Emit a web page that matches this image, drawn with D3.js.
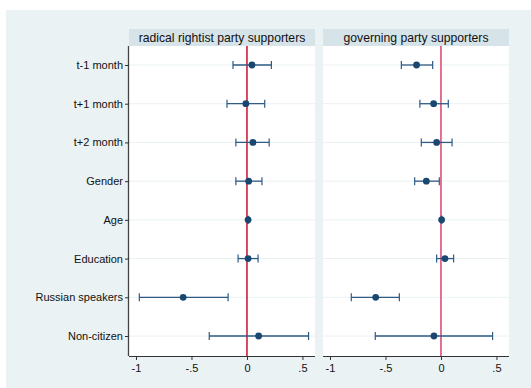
<!DOCTYPE html>
<html lang="en">
<head>
<meta charset="UTF-8">
<title>coefplot</title>
<script src="https://cdn.jsdelivr.net/npm/d3@7"></script>
<style>
  body { margin: 0; background: #fff; }
  text { font-family: "Liberation Sans", Arial, sans-serif; fill: #111; }
</style>
</head>
<body>
<svg id="chart" width="531" height="388"></svg>
<script>
// categories (top to bottom)
var categories = ["t-1 month", "t+1 month", "t+2 month", "Gender", "Age", "Education", "Russian speakers", "Non-citizen"];

// panel titles
var panelTitles = ["radical rightist party supporters", "governing party supporters"];

// radical rightist party supporters: estimate, lower, upper
var radicalEst = [0.045, -0.01, 0.054, 0.015, 0.01, 0.01, -0.575, 0.105];
var radicalLo  = [-0.126, -0.18, -0.10, -0.10, 0.005, -0.08, -0.97, -0.34];
var radicalHi  = [0.22, 0.16, 0.20, 0.135, 0.015, 0.10, -0.17, 0.555];

// governing party supporters
var govEst = [-0.22, -0.066, -0.039, -0.132, 0.006, 0.036, -0.588, -0.063];
var govLo  = [-0.357, -0.19, -0.177, -0.237, 0.002, -0.039, -0.808, -0.592];
var govHi  = [-0.075, 0.066, 0.10, -0.015, 0.010, 0.114, -0.375, 0.465];

var tickValues = [-1, -0.5, 0, 0.5];
var tickLabels = ["-1", "-.5", "0", ".5"];

var series = [
  {est: radicalEst, lo: radicalLo, hi: radicalHi},
  {est: govEst, lo: govLo, hi: govHi}
];

var svg = d3.select("#chart");

// outer background
svg.append("rect").attr("x", 6).attr("y", 10).attr("width", 525).attr("height", 378)
  .attr("fill", "#eaf2f3");

var panelW = 186, plotTop = 46, plotBottom = 356, headerTop = 29;
var panelX = [129, 323];

var y = d3.scalePoint().domain(categories).range([65, 336]);

panelX.forEach(function (px, p) {
  var g = svg.append("g");
  var x = d3.scaleLinear().domain([-1.063, 0.613]).range([px, px + panelW]);
  var s = series[p];

  // header
  g.append("rect").attr("x", px).attr("y", headerTop).attr("width", panelW)
    .attr("height", plotTop - headerTop).attr("fill", "#d6e3e9");
  g.append("text").attr("x", px + panelW / 2).attr("y", plotTop - 4.5)
    .attr("text-anchor", "middle").attr("font-size", 12.2).attr("fill", "#222")
    .text(panelTitles[p]);

  // plot area
  g.append("rect").attr("x", px).attr("y", plotTop).attr("width", panelW)
    .attr("height", plotBottom - plotTop).attr("fill", "#fff");

  // gridlines
  g.selectAll(".grid").data(categories).enter().append("line")
    .attr("x1", px).attr("x2", px + panelW)
    .attr("y1", function (d) { return y(d); }).attr("y2", function (d) { return y(d); })
    .attr("stroke", "#eaf2f3").attr("stroke-width", 1);

  // reference line at 0
  g.append("line").attr("x1", x(0)).attr("x2", x(0)).attr("y1", plotTop).attr("y2", plotBottom)
    .attr("stroke", p === 0 ? "#c8102e" : "#d9456c").attr("stroke-width", 1.5);

  // CI lines and caps
  var ci = g.selectAll(".ci").data(categories).enter().append("g");
  ci.append("line")
    .attr("x1", function (d, i) { return x(s.lo[i]); })
    .attr("x2", function (d, i) { return x(s.hi[i]); })
    .attr("y1", function (d) { return y(d); }).attr("y2", function (d) { return y(d); })
    .attr("stroke", "#2e5a85").attr("stroke-width", 1.3);
  [s.lo, s.hi].forEach(function (arr) {
    ci.append("line")
      .attr("x1", function (d, i) { return x(arr[i]); })
      .attr("x2", function (d, i) { return x(arr[i]); })
      .attr("y1", function (d) { return y(d) - 4; }).attr("y2", function (d) { return y(d) + 4; })
      .attr("stroke", "#2e5a85").attr("stroke-width", 1.2);
  });

  // points
  g.selectAll(".pt").data(categories).enter().append("circle")
    .attr("cx", function (d, i) { return x(s.est[i]); })
    .attr("cy", function (d) { return y(d); })
    .attr("r", 3.4).attr("fill", "#1a476f");

  // x axis
  var xAxis = d3.axisBottom(x).tickValues(tickValues).tickSize(4).tickPadding(4)
    .tickFormat(function (d, i) { return tickLabels[i]; });
  var ax = g.append("g").attr("transform", "translate(0," + plotBottom + ")").call(xAxis);
  ax.select(".domain").attr("d", "M" + px + ",0.5H" + (px + panelW)).attr("stroke", "#333");
  ax.selectAll(".tick line").attr("stroke", "#333");
  ax.selectAll(".tick text").attr("font-size", 11).attr("fill", "#111")
    .attr("font-family", "'Liberation Sans', Arial, sans-serif");
});

// y axis on the left panel
var yAxis = d3.axisLeft(y).tickSize(4).tickPadding(2);
var ay = svg.append("g").attr("transform", "translate(" + panelX[0] + ",0)").call(yAxis);
ay.select(".domain").attr("d", "M-0.5," + plotTop + "V" + plotBottom).attr("stroke", "#444").attr("stroke-width", 1.3);
ay.selectAll(".tick line").attr("stroke", "#333");
ay.selectAll(".tick text").attr("font-size", 11).attr("fill", "#111")
  .attr("font-family", "'Liberation Sans', Arial, sans-serif");
</script>
</body>
</html>
